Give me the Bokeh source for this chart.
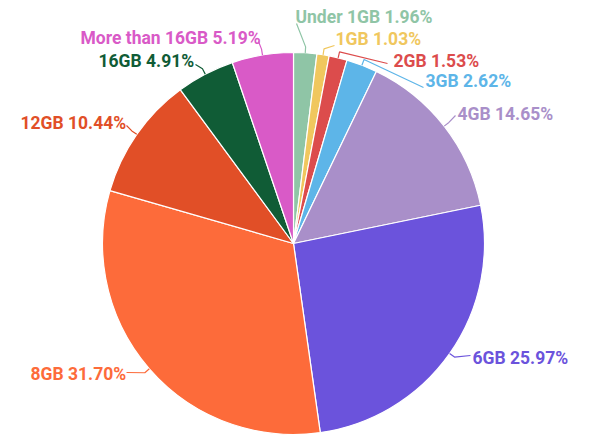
import math
from bokeh.plotting import figure
from bokeh.models import ColumnDataSource
from bokeh.core.properties import value
from bokeh.embed import file_html
from bokeh.resources import INLINE

# data
categories = ["Under 1GB", "1GB", "2GB", "3GB", "4GB", "6GB", "8GB", "12GB", "16GB", "More than 16GB"]
shares = [1.96, 1.03, 1.53, 2.62, 14.65, 25.97, 31.70, 10.44, 4.91, 5.19]
colors = ["#8fc5a6", "#f0c75e", "#dc4c4c", "#5db5e8", "#a98fc9",
          "#6b53dc", "#fd6b3a", "#e14f27", "#105c36", "#d95ac7"]

# label placement (page pixels: left edge, vertical middle) -- styling only
label_pos = [(295, 16), (335, 38), (393, 60), (425, 80), (457, 113),
             (472, 357), (30, 373), (20, 122), (98, 60), (80, 37)]
# where the leader line meets the label (page pixels)
line_end = [(296, 23), (334, 45), (387, 63), (423, 87), (455, 115),
            (470, 355), (126, 372), (126, 125), (195, 64), (258, 41)]

W, H = 592, 441
R = 191

def to_data(px, py):
    return px, H - py

cx, cy = to_data(293, 243)

total = sum(shares)
starts, ends, mids = [], [], []
acc = 0.0
for s in shares:
    a0 = math.pi / 2 - 2 * math.pi * acc / total
    acc += s
    a1 = math.pi / 2 - 2 * math.pi * acc / total
    starts.append(a0)
    ends.append(a1)
    mids.append((a0 + a1) / 2)

src = ColumnDataSource(data=dict(cat=categories, share=shares, color=colors,
                                 start=starts, end=ends))

p = figure(width=W, height=H, x_range=(0, W), y_range=(0, H),
           output_backend="svg", toolbar_location=None, min_border=0)
p.axis.visible = False
p.grid.visible = False
p.outline_line_color = None
p.background_fill_color = "white"

p.wedge(x=cx, y=cy, radius=R, start_angle="start", end_angle="end",
        direction="clock", fill_color="color", line_color="white",
        line_width=1.2, source=src)

xs, ys = [], []
for m, e in zip(mids, line_end):
    x0 = cx + R * math.cos(m)
    y0 = cy + R * math.sin(m)
    xk = cx + (R + 6) * math.cos(m)
    yk = cy + (R + 6) * math.sin(m)
    ex, ey = to_data(*e)
    xs.append([x0, xk, ex])
    ys.append([y0, yk, ey])
p.multi_line(xs=xs, ys=ys, line_color=colors, line_width=1.2)

lx = [to_data(*q)[0] for q in label_pos]
ly = [to_data(*q)[1] for q in label_pos]
texts = ["%s %.2f%%" % (c, s) for c, s in zip(categories, shares)]
p.text(x=lx, y=ly, text=texts, text_color=colors, text_font=value("Roboto"),
       text_font_style="bold", text_font_size="17.5px", text_align="left",
       text_baseline="middle")

open("out.html", "w").write(file_html(p, INLINE))
